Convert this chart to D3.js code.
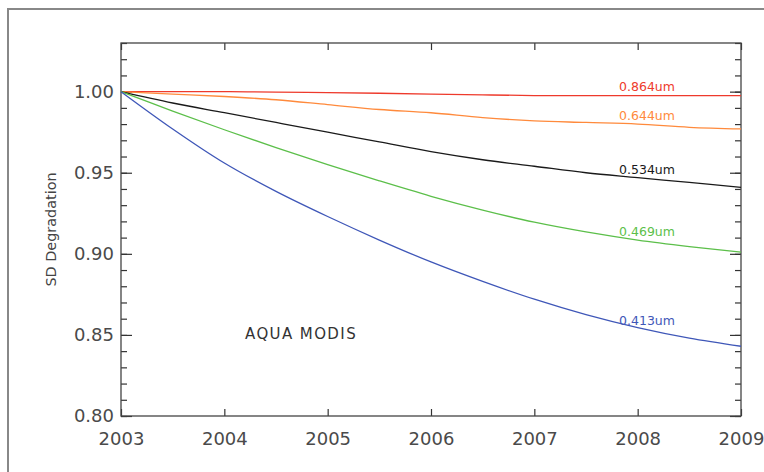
<!DOCTYPE html>
<html lang="en">
<head>
    <meta charset="UTF-8">
    <title>SD Degradation</title>
    <script src="https://cdn.jsdelivr.net/npm/d3@7"></script>
    <style>
        body, html { margin: 0; padding: 0; background: #fff; overflow: hidden; }
        svg { display: block; }
    </style>
</head>
<body>
    <svg id="mainsvg"></svg>
    <script>
        // data
        const years = [2003, 2003.5, 2004, 2004.5, 2005, 2005.5, 2006, 2006.5, 2007, 2007.5, 2008, 2008.5, 2009];
        const band864 = [1.000, 1.000, 1.000, 0.9997, 0.9994, 0.999, 0.9985, 0.998, 0.9976, 0.9975, 0.9975, 0.9975, 0.9975];
        const band644 = [1.000, 0.9985, 0.997, 0.995, 0.992, 0.989, 0.987, 0.984, 0.982, 0.981, 0.980, 0.978, 0.977];
        const band534 = [1.000, 0.993, 0.987, 0.981, 0.975, 0.969, 0.963, 0.958, 0.954, 0.950, 0.947, 0.944, 0.941];
        const band469 = [1.000, 0.988, 0.9765, 0.9655, 0.955, 0.945, 0.9355, 0.927, 0.9195, 0.9135, 0.9085, 0.9045, 0.901];
        const band413 = [1.000, 0.977, 0.956, 0.9385, 0.923, 0.9085, 0.895, 0.883, 0.872, 0.8625, 0.8545, 0.848, 0.843];
        const bandNames = ['0.864um', '0.644um', '0.534um', '0.469um', '0.413um'];
        const bandColors = ['#ee3a2c', '#ff8a3c', '#1a1a1a', '#5cbf4a', '#3f57b8'];
        const xTicks = [2003, 2004, 2005, 2006, 2007, 2008, 2009];
        const yTicks = [0.80, 0.85, 0.90, 0.95, 1.00];

        const width = 764, height = 472;
        const svg = d3.select('svg').attr('width', width).attr('height', height);

        // outer frame: only the left and top sides are inside the picture
        svg.append('path')
            .attr('d', `M8,${height} V9 H${width}`)
            .attr('fill', 'none').attr('stroke', '#888').attr('stroke-width', 2);

        const margin = { top: 43, right: 23, bottom: 55, left: 121 };
        const innerWidth = width - margin.left - margin.right;
        const innerHeight = height - margin.top - margin.bottom - 1;

        const g = svg.append('g').attr('transform', `translate(${margin.left}, ${margin.top})`);

        const xScale = d3.scaleLinear().domain([2003, 2009]).range([0, innerWidth]);
        const yScale = d3.scaleLinear().domain([0.80, 1.03]).range([innerHeight, 0]);

        const font = 'DejaVu Sans, Verdana, sans-serif';
        const axisColor = '#333';

        // bottom / top axes, ticks pointing inward
        const xBottom = g.append('g').attr('transform', `translate(0, ${innerHeight})`)
            .call(d3.axisBottom(xScale).tickValues(xTicks).tickFormat(d3.format('d')).tickSizeInner(-7).tickSizeOuter(0).tickPadding(16));
        const xTop = g.append('g')
            .call(d3.axisTop(xScale).tickValues(xTicks).tickSizeInner(-7).tickSizeOuter(0));

        // left / right axes: minor ticks every 0.01, major every 0.05
        const minor = d3.range(80, 104).map(v => v / 100);
        const yLeftMinor = g.append('g')
            .call(d3.axisLeft(yScale).tickValues(minor).tickSizeInner(-6).tickSizeOuter(0));
        const yLeft = g.append('g')
            .call(d3.axisLeft(yScale).tickValues(yTicks).tickFormat(d3.format('.2f')).tickSizeInner(-11).tickSizeOuter(0).tickPadding(7));
        const yRightMinor = g.append('g').attr('transform', `translate(${innerWidth}, 0)`)
            .call(d3.axisRight(yScale).tickValues(minor).tickSizeInner(-6).tickSizeOuter(0));
        const yRight = g.append('g').attr('transform', `translate(${innerWidth}, 0)`)
            .call(d3.axisRight(yScale).tickValues(yTicks).tickSizeInner(-11).tickSizeOuter(0));

        // tick-only axes carry no labels
        [xTop, yLeftMinor, yRightMinor, yRight].forEach(a => a.selectAll('.tick text').remove());

        [xBottom, xTop, yLeftMinor, yLeft, yRightMinor, yRight].forEach(a => {
            a.select('.domain').remove();
            a.selectAll('line').attr('stroke', axisColor).attr('stroke-width', 1.2);
            a.selectAll('text').attr('fill', '#4a4a4a').attr('font-family', font).attr('font-size', '18px');
        });

        // plot box
        g.append('rect')
            .attr('x', 0).attr('y', 0)
            .attr('width', innerWidth).attr('height', innerHeight)
            .attr('fill', 'none').attr('stroke', '#444').attr('stroke-width', 1.3);

        // curves
        const allBands = [band864, band644, band534, band469, band413];
        const line = d3.line()
            .x((d, i) => xScale(years[i]))
            .y(d => yScale(d))
            .curve(d3.curveCatmullRom.alpha(0.5));

        g.selectAll('.band').data(allBands).enter().append('path')
            .attr('class', 'band')
            .attr('d', line)
            .attr('fill', 'none')
            .attr('stroke', (d, i) => bandColors[i])
            .attr('stroke-width', 1.3);

        // labels sit just above each curve near 2008
        g.selectAll('.bandlabel').data(allBands).enter().append('text')
            .attr('class', 'bandlabel')
            .attr('x', xScale(2007.82))
            .attr('y', d => yScale(d3.scaleLinear().domain(years).range(d)(2008.1)) - 5)
            .attr('fill', (d, i) => bandColors[i])
            .attr('font-family', font)
            .attr('font-size', '12.5px')
            .text((d, i) => bandNames[i]);

        // y-axis title
        svg.append('text')
            .attr('transform', `translate(56, ${margin.top + yScale(0.915)}) rotate(-90)`)
            .attr('text-anchor', 'middle')
            .attr('fill', '#444')
            .attr('font-family', font)
            .attr('font-size', '14.4px')
            .text('SD Degradation');

        g.append('text')
            .attr('x', 245 - margin.left)
            .attr('y', yScale(0.8475))
            .attr('fill', '#333')
            .attr('font-family', font)
            .attr('font-size', '15px')
            .attr('letter-spacing', '1.4px')
            .text('AQUA MODIS');
    </script>
</body>
</html>
